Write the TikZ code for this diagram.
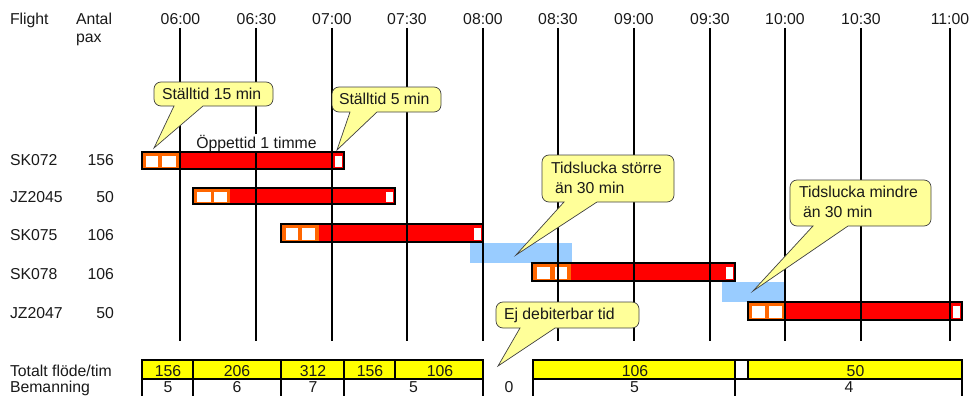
\documentclass[tikz,border=0pt]{standalone}
\usepackage{fontspec}
\setmainfont{Liberation Sans}
\definecolor{barred}{HTML}{FF0000}
\definecolor{barorange}{HTML}{FF6600}
\definecolor{gapblue}{HTML}{99CCFF}
\definecolor{tagyellow}{HTML}{FFFF99}
\definecolor{rowyellow}{HTML}{FFFF00}
\tikzset{
  lbl/.style={inner sep=0pt,outer sep=0pt,anchor=base west,font=\fontsize{15.8}{18}\selectfont,text=black!90},
  lblr/.style={lbl,anchor=base east},
  lblc/.style={lbl,anchor=base},
  grid/.style={draw=black,line width=2pt},
  outline/.style={draw=black,line width=2pt,fill=none},
  tag/.style={draw=black!75,line width=0.7pt,fill=tagyellow},
  whitebox/.style={fill=white},
}
\newcommand{\flightbar}[7]{%
  \fill[barred] (#1,#2) rectangle (#3,#4);
  \fill[barorange] (#1,#2) rectangle (#5,#4);
  \foreach \a/\b in {#6} {\fill[whitebox] (\a,#2+4) rectangle (\b,#4-2);}
  \foreach \a/\b in {#7} {\fill[whitebox] (\a,#2+4) rectangle (\b,#4-2);}
}
\newcommand{\tagshape}[8]{%
  \draw[tag] [rounded corners=7] (#1,#2) -- (#3,#2) -- (#3,#4) [sharp corners] -- (#7,#4) -- (#5,#6) -- (#8,#4) [rounded corners=7] -- (#1,#4) -- cycle;
}
\begin{document}
\begin{tikzpicture}[x=1pt,y=-1pt]
\useasboundingbox (0,0) rectangle (971,396);
% blue gaps
\fill[gapblue] (470,243) rectangle (572,263);
\fill[gapblue] (722,282) rectangle (785,302);
% bars
\flightbar{142}{152}{344}{169}{180}{146/158,162/176}{335/342}
\flightbar{193}{188}{395}{204}{230}{197/211,214/227}{386/393}
\flightbar{281}{224}{483}{242}{319}{286/298,302/315}{474/481}
\flightbar{532}{263}{735}{281}{571}{537/550,555/567}{726/733}
\flightbar{748}{302}{962}{320}{785}{752/765,769/782}{953/960}
% grid lines
\foreach \x in {180,256,332,407,483,558,634,710,785,861,950}
  \draw[grid] (\x,28) -- (\x,341);
\node[lblc,fill=white,inner xsep=2pt,inner ysep=1pt] (open) at (256.5,148) {Öppettid 1 timme};
% bar outlines
\draw[outline] (142,152) rectangle (344,169);
\draw[outline] (193,188) rectangle (395,204);
\draw[outline] (281,224) rectangle (483,242);
\draw[outline] (532,263) rectangle (735,281);
\draw[outline] (748,302) rectangle (962,320);
% header
\node[lbl] (hflight) at (10,25) {Flight};
\node[lbl] (hantal) at (76,25) {Antal};
\node[lbl] (hpax) at (76,43) {pax};
\foreach \x/\t in {180.5/06:00,256.5/06:30,332/07:00,407/07:30,483/08:00,558/08:30,634/09:00,710/09:30,785/10:00,861/10:30,950/11:00}
  \node[lblc] (t\x) at (\x,25) {\t};
% rows
\foreach \y/\f/\p in {165/SK072/156,202/JZ2045/50,240/SK075/106,279/SK078/106,318/JZ2047/50} {
  \node[lbl] (f\y) at (10,\y) {\f};
  \node[lblr] (p\y) at (114,\y) {\p};
}
% table
\fill[rowyellow] (142,360) rectangle (483,379);
\fill[rowyellow] (533,360) rectangle (735,379);
\fill[rowyellow] (748,360) rectangle (962,379);
\draw[outline] (142,360) -- (483,360) (533,360) -- (962,360);
\draw[outline] (142,379) -- (483,379) (533,379) -- (962,379);
\foreach \x in {142,193,281,344,483,533,735,962}
  \draw[outline] (\x,359) -- (\x,396);
\draw[outline] (395,360) -- (395,379);
\draw[outline] (748,360) -- (748,379);
\node[lbl] (tot) at (10,376.5) {Totalt flöde/tim};
\node[lbl] (bem) at (10,392.6) {Bemanning};
\foreach \x/\t in {168/156,237/206,313/312,370/156,440/106,635/106,855.5/50}
  \node[lblc] (r\x) at (\x,376.5) {\t};
\foreach \x/\t in {168/5,237/6,313/7,413.5/5,509/0,634.5/5,849/4}
  \node[lblc] (b\x) at (\x,392.6) {\t};
% callouts
\tagshape{154}{82}{273}{106}{154}{148}{203}{174}
\tagshape{332}{87}{441}{112}{337}{150}{377}{350}
\tagshape{542}{155}{674}{202}{516}{255}{597}{564}
\tagshape{790}{180}{931}{226}{753}{291}{848}{813}
\tagshape{496}{302}{639}{328}{498}{366}{555}{520}
\node[lbl] (c1) at (162,99) {Ställtid 15 min};
\node[lbl] (c2) at (339,104) {Ställtid 5 min};
\node[lbl] (c3a) at (551,173) {Tidslucka större};
\node[lbl] (c3b) at (555,193) {än 30 min};
\node[lbl] (c4a) at (799,197) {Tidslucka mindre};
\node[lbl] (c4b) at (803,217) {än 30 min};
\node[lbl] (c5) at (504,319) {Ej debiterbar tid};
\end{tikzpicture}
\end{document}
